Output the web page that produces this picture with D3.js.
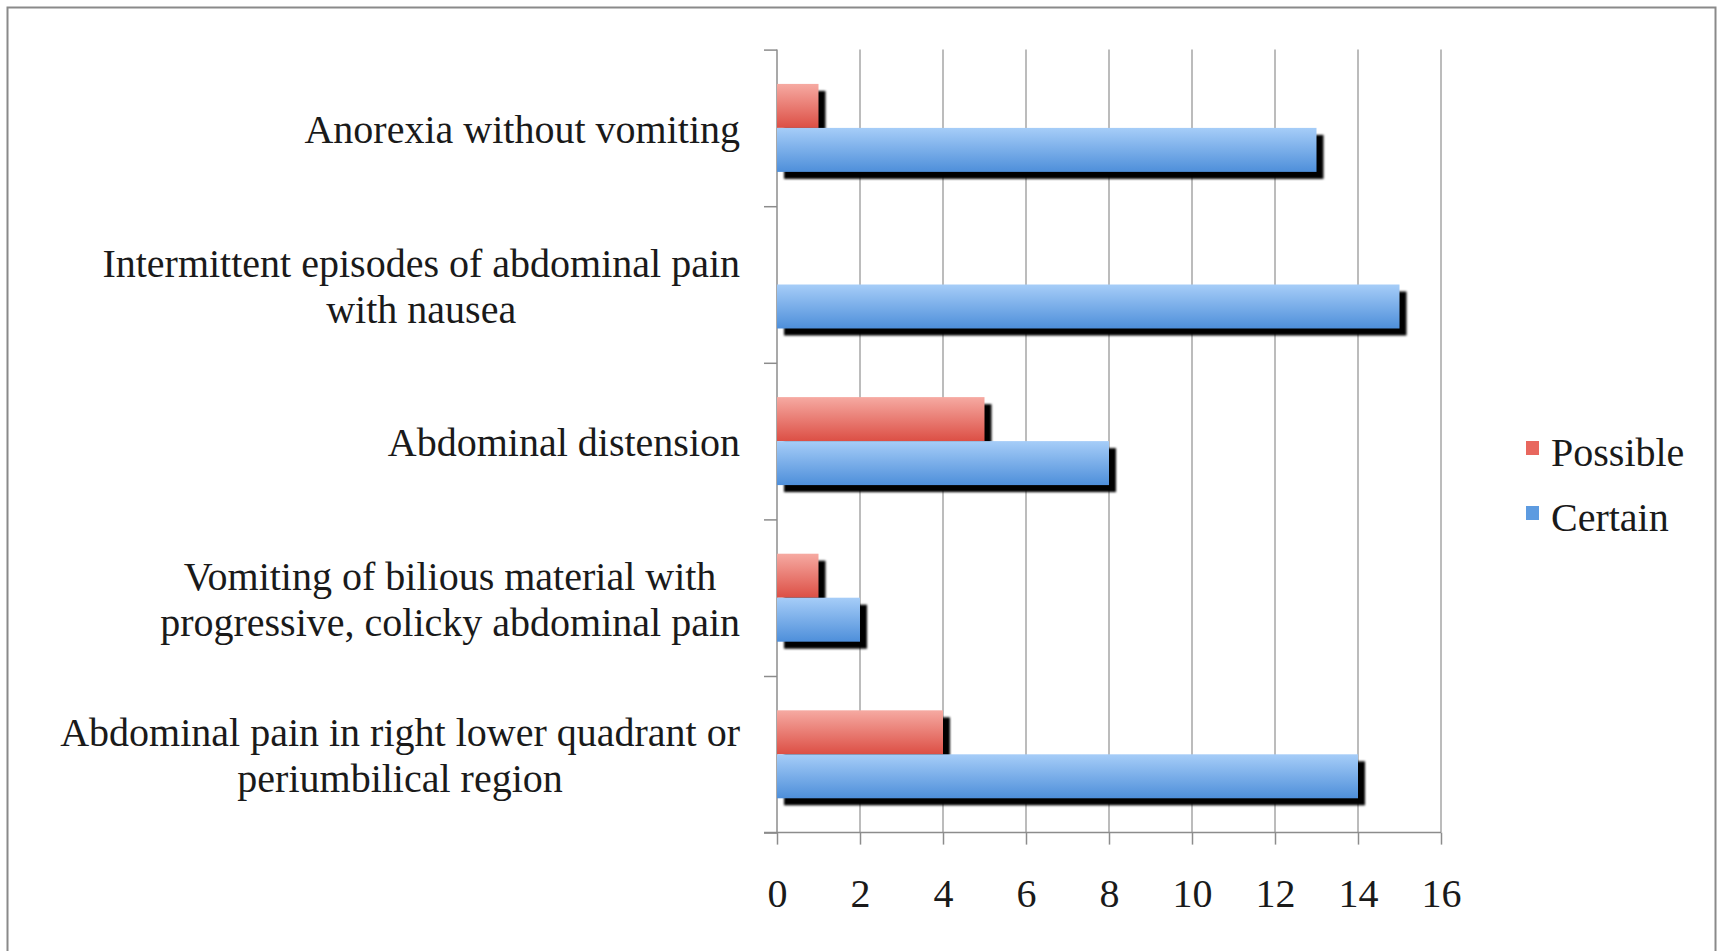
<!DOCTYPE html>
<html>
<head>
<meta charset="utf-8">
<script src="https://cdn.jsdelivr.net/npm/d3@7"></script>
<style>
  html, body { margin: 0; padding: 0; background: #fff; }
  svg text { font-family: "Liberation Serif", "Times New Roman", serif; fill: #1a1a1a; }
</style>
</head>
<body>
<div class="graph"></div>
<script>
// categories, top to bottom as drawn
const categories = [
  "Anorexia without vomiting",
  "Intermittent episodes of abdominal pain\nwith nausea",
  "Abdominal distension",
  "Vomiting of bilious material with\nprogressive, colicky abdominal pain",
  "Abdominal pain in right lower quadrant or\nperiumbilical region"
];
const seriesNames = ["Possible", "Certain"];
const possible = [1, 0, 5, 1, 4];
const certain = [13, 15, 8, 2, 14];
const xTicks = [0, 2, 4, 6, 8, 10, 12, 14, 16];

const W = 1727, H = 951;
const plot = {left: 777, right: 1441, top: 49.6, bottom: 832.6};

const svg = d3.select(".graph").append("svg")
  .attr("width", W)
  .attr("height", H);

const defs = svg.append("defs");

function grad(id, top, bottom){
  const g = defs.append("linearGradient")
      .attr("id", id)
      .attr("x1", 0).attr("y1", 0).attr("x2", 0).attr("y2", 1);
  g.append("stop").attr("offset", "0%").attr("stop-color", top);
  g.append("stop").attr("offset", "100%").attr("stop-color", bottom);
}
grad("gPossible", "#f6aaa2", "#dc4f45");
grad("gCertain", "#a6cdf8", "#4e8fda");

defs.append("filter")
    .attr("id", "soft")
  .append("feGaussianBlur")
    .attr("stdDeviation", 0.9);

// outer frame
svg.append("rect")
  .attr("x", 7.5).attr("y", 7.5)
  .attr("width", 1708).attr("height", 980)
  .attr("fill", "#fff")
  .attr("stroke", "#8a8a8a")
  .attr("stroke-width", 2);

const x = d3.scaleLinear().domain([0, 16]).range([plot.left, plot.right]);
const y0 = d3.scaleBand().domain(categories).range([plot.top, plot.bottom]).padding(0);
const y1 = d3.scaleBand().domain(seriesNames).range([0, y0.bandwidth()])
  .paddingInner(0).paddingOuter(0.78);
const yIdx = d3.scaleLinear().domain([0, categories.length]).range([plot.top, plot.bottom]);

const fills = {Possible: "url(#gPossible)", Certain: "url(#gCertain)"};
const legendFills = {Possible: "#e8675e", Certain: "#5d9be0"};

// gridlines
svg.append("g")
  .selectAll("line")
  .data(xTicks.slice(1))
  .enter().append("line")
    .attr("x1", d => x(d)).attr("x2", d => x(d))
    .attr("y1", plot.top).attr("y2", plot.bottom)
    .attr("stroke", "#a6a6a6")
    .attr("stroke-width", 1.5);

// bottom axis
const xAxis = d3.axisBottom(x).tickValues(xTicks).tickSize(12).tickPadding(62).tickFormat(d3.format("d"));
const gx = svg.append("g")
  .attr("transform", "translate(0," + plot.bottom + ")")
  .call(xAxis);
gx.select(".domain").remove();
gx.selectAll(".tick line").attr("stroke", "#8c8c8c").attr("stroke-width", 1.5);
gx.selectAll(".tick text")
  .attr("font-size", 40)
  .attr("font-family", "Liberation Serif, serif")
  .attr("fill", "#1a1a1a")
  .attr("dy", "0");
gx.append("line")
  .attr("x1", plot.left - 13).attr("x2", plot.right)
  .attr("y1", 0).attr("y2", 0)
  .attr("stroke", "#8c8c8c")
  .attr("stroke-width", 1.5);

// left axis with ticks between categories
const yAxis = d3.axisLeft(yIdx).ticks(categories.length).tickSize(13).tickFormat("");
const gy = svg.append("g")
  .attr("transform", "translate(" + plot.left + ",0)")
  .call(yAxis);
gy.select(".domain").attr("stroke", "#8c8c8c").attr("stroke-width", 1.5)
  .attr("d", "M0," + plot.top + "V" + plot.bottom);
gy.selectAll(".tick line").attr("stroke", "#8c8c8c").attr("stroke-width", 1.5);

// bars
const rows = categories.map((c, i) => ({cat: c, Possible: possible[i], Certain: certain[i]}));
const groups = svg.append("g").selectAll("g")
  .data(rows)
  .enter().append("g")
    .attr("transform", d => "translate(0," + y0(d.cat) + ")");

seriesNames.forEach(s => {
  const live = groups.filter(d => d[s] > 0);
  live.append("rect")
    .attr("x", x(0) + 7)
    .attr("y", y1(s) + 7)
    .attr("width", d => x(d[s]) - x(0))
    .attr("height", y1.bandwidth())
    .attr("fill", "#000")
    .attr("filter", "url(#soft)");
  live.append("rect")
    .attr("x", x(0))
    .attr("y", y1(s))
    .attr("width", d => x(d[s]) - x(0))
    .attr("height", y1.bandwidth())
    .attr("fill", fills[s]);
});

// category labels
const lineGap = 46;
svg.append("g").selectAll("text")
  .data(categories)
  .enter().append("text")
    .attr("font-size", 40)
    .attr("text-anchor", "middle")
    .each(function(c){
      const t = d3.select(this);
      const lines = c.split("\n");
      const mid = y0(c) + y0.bandwidth() / 2 + 15;
      lines.forEach((ln, k) => {
        t.append("tspan")
          .attr("y", mid + (k - (lines.length - 1) / 2) * lineGap)
          .text(ln);
      });
      // right-align the block, lines centred within it
      const wmax = d3.max(t.selectAll("tspan").nodes(), n => n.getComputedTextLength());
      t.selectAll("tspan").attr("x", 740 - wmax / 2);
    });

// legend
const legend = svg.append("g").selectAll("g")
  .data(seriesNames)
  .enter().append("g")
    .attr("transform", (d, i) => "translate(1526," + (441 + i * 65) + ")");
legend.append("rect")
  .attr("width", 13).attr("height", 14)
  .attr("fill", d => legendFills[d]);
legend.append("text")
  .attr("x", 25).attr("y", 25)
  .attr("font-size", 40)
  .text(d => d);
</script>
</body>
</html>
